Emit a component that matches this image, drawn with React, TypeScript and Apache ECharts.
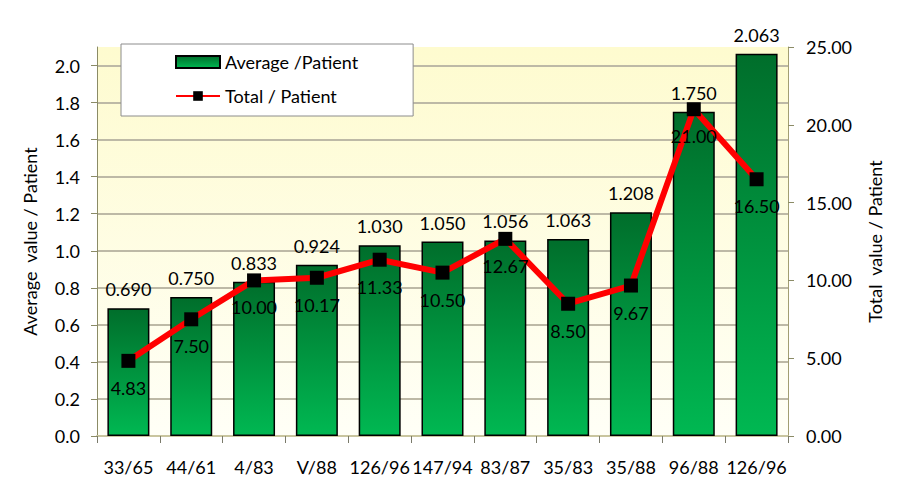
import React, { useEffect, useRef } from "react";
import * as echarts from "echarts";

const categories = ["33/65", "44/61", "4/83", "V/88", "126/96", "147/94", "83/87", "35/83", "35/88", "96/88", "126/96"];
const averagePerPatient = [0.69, 0.75, 0.833, 0.924, 1.03, 1.05, 1.056, 1.063, 1.208, 1.75, 2.063];
const totalPerPatient = [4.83, 7.5, 10.0, 10.17, 11.33, 10.5, 12.67, 8.5, 9.67, 21.0, 16.5];

const FONT = "Lato, 'Open Sans', sans-serif";
const FS = 18;

export default function App() {
  const ref = useRef<HTMLDivElement>(null);
  useEffect(() => {
    if (!ref.current) return;
    const chart = echarts.init(ref.current, null, { renderer: "svg" });
    const barGradient = new echarts.graphic.LinearGradient(0, 0, 0, 1, [
      { offset: 0, color: "#006e2b" },
      { offset: 1, color: "#00b852" },
    ]);
    chart.setOption({
      animation: false,
      textStyle: { fontFamily: FONT },
      grid: {
        left: 97,
        right: 111,
        top: 47,
        bottom: 51,
        show: true,
        borderWidth: 0,
        backgroundColor: new echarts.graphic.LinearGradient(0, 0, 0, 1, [
          { offset: 0, color: "#fefbcf" },
          { offset: 1, color: "#fffff7" },
        ]),
      },
      legend: {
        orient: "vertical",
        left: 121,
        top: 44,
        padding: [9, 55, 11, 54],
        itemGap: 16,
        itemWidth: 44,
        itemHeight: 12,
        backgroundColor: "#ffffff",
        borderColor: "#8c8c8c",
        borderWidth: 1,
        textStyle: { fontFamily: FONT, fontSize: FS, color: "#000" },
        data: [
          { name: "Average /Patient", icon: "rect" },
          { name: "Total / Patient" },
        ],
      },
      xAxis: {
        type: "category",
        data: categories,
        axisLine: { lineStyle: { color: "#c9c59f", width: 2 } },
        axisTick: { show: true, length: 7, lineStyle: { color: "#7a7a6a" } },
        axisLabel: { fontFamily: FONT, fontSize: FS, color: "#000", margin: 22, interval: 0 },
        splitLine: { show: false },
      },
      yAxis: [
        {
          type: "value",
          min: 0,
          max: 2.1,
          interval: 0.2,
          name: "Average  value / Patient",
          nameLocation: "middle",
          nameRotate: 90,
          nameGap: 58,
          nameTextStyle: { fontFamily: FONT, fontSize: FS, color: "#000" },
          axisLine: { show: true, lineStyle: { color: "#8b8b66", width: 1 } },
          axisTick: { show: true, length: 6, lineStyle: { color: "#8b8b66" } },
          axisLabel: {
            fontFamily: FONT,
            fontSize: FS,
            color: "#000",
            margin: 17,
            showMaxLabel: false,
            formatter: (v: number) => v.toFixed(1),
          },
          splitLine: { show: true, showMaxLine: false, lineStyle: { color: "#bdb9a6", width: 2 } },
        },
        {
          type: "value",
          min: 0,
          max: 25,
          interval: 5,
          name: "Total  value / Patient",
          nameLocation: "middle",
          nameRotate: 90,
          nameGap: 78,
          nameTextStyle: { fontFamily: FONT, fontSize: FS, color: "#000" },
          axisLine: { show: true, lineStyle: { color: "#a29e72", width: 1 } },
          axisTick: { show: true, length: 6, lineStyle: { color: "#8b8b66" } },
          axisLabel: {
            fontFamily: FONT,
            fontSize: FS,
            color: "#000",
            margin: 18,
            formatter: (v: number) => v.toFixed(2),
          },
          splitLine: { show: false },
        },
      ],
      series: [
        {
          name: "Average /Patient",
          type: "bar",
          yAxisIndex: 0,
          data: averagePerPatient,
          barWidth: 42,
          itemStyle: { color: barGradient, borderColor: "#000", borderWidth: 1.5 },
          label: {
            show: true,
            position: "top",
            distance: 10,
            fontFamily: FONT,
            fontSize: FS,
            color: "#000",
            formatter: (p: any) => Number(p.value).toFixed(3),
          },
          z: 2,
        },
        {
          name: "Total / Patient",
          type: "line",
          yAxisIndex: 1,
          data: totalPerPatient,
          symbol: "rect",
          symbolSize: 14,
          itemStyle: { color: "#000" },
          lineStyle: { color: "#ff0000", width: 6 },
          label: {
            show: true,
            position: "bottom",
            distance: 11,
            fontFamily: FONT,
            fontSize: FS,
            color: "#000",
            formatter: (p: any) => Number(p.value).toFixed(2),
          },
          z: 3,
        },
      ],
    });
    return () => chart.dispose();
  }, []);
  return (
    <div
      ref={ref}
      style={{ position: "fixed", left: 0, top: 0, width: 899, height: 487, background: "#fff" }}
    />
  );
}
